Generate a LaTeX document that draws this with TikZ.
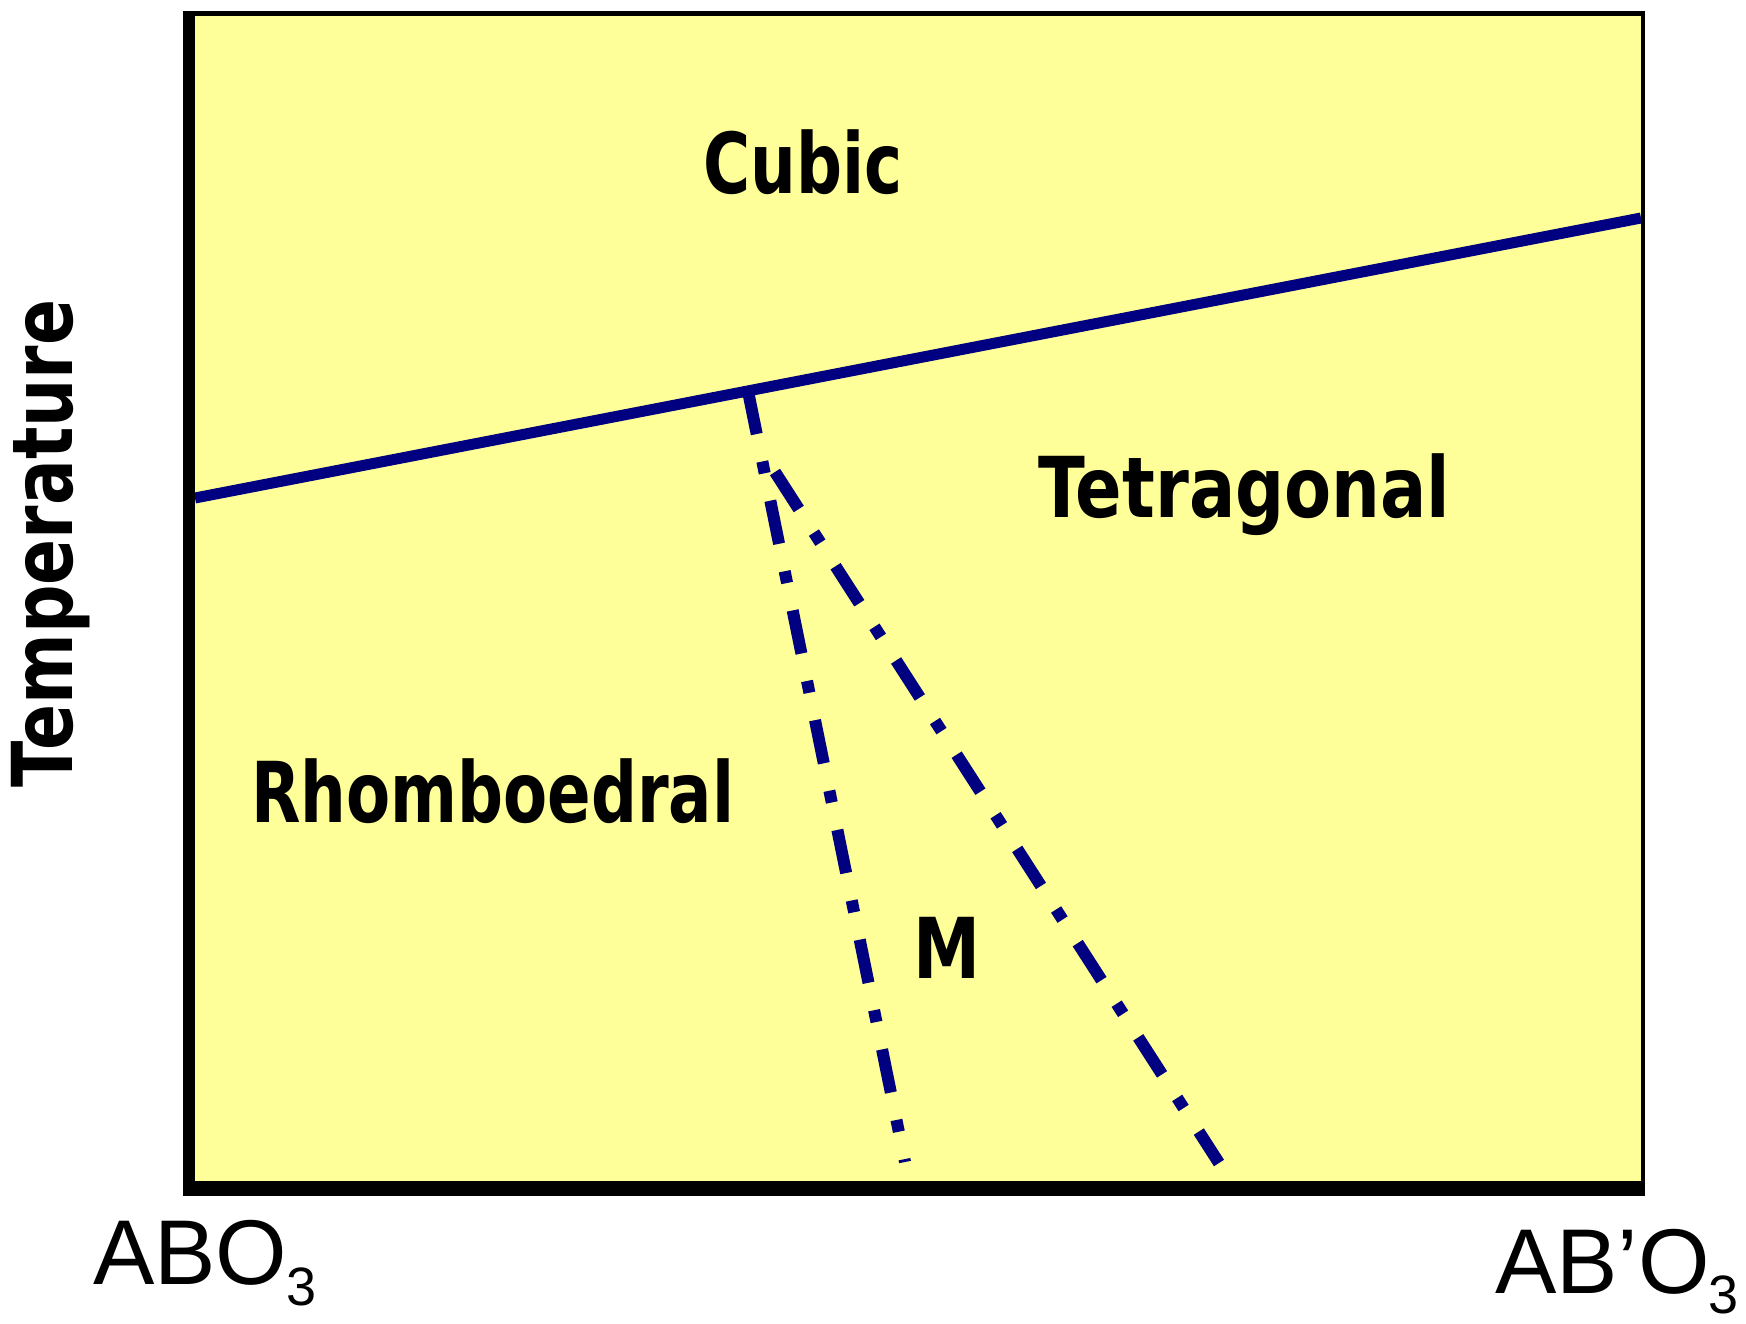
\documentclass[tikz,border=0pt]{standalone}
\usepackage{fontspec}
\usepackage{graphicx}
\usetikzlibrary{calc}
\setmainfont{Liberation Sans}
\newfontfamily\comicfont{DejaVu Sans}
\definecolor{paper}{HTML}{FFFF99}
\definecolor{navyline}{HTML}{000080}
\newcommand{\fitto}[2]{\resizebox{#1}{\height}{#2}}
\newcommand{\subthree}[1]{\kern-1pt\raisebox{-#1}{\fontsize{54}{54}\selectfont 3}}
\tikzset{
  phaseline/.style={navyline, line width=11pt},
  dashdotline/.style={navyline, line width=12pt, dash pattern=on 44pt off 28pt on 12pt off 28pt},
  region/.style={inner sep=0pt, anchor=base west, font=\comicfont\bfseries\fontsize{84}{84}\selectfont},
  axislabel/.style={inner sep=0pt, anchor=base west, font=\fontsize{92}{92}\selectfont},
  frameedge/.style={fill=black, draw=none},
}
\begin{document}
\begin{tikzpicture}[x=1pt, y=-1pt]
\useasboundingbox (0,0) rectangle (1746,1323);
% plot area
\fill[paper] (195,16) rectangle (1641,1181);
% phase boundaries
\coordinate (L) at (195,498);
\coordinate (R) at (1641,218);
\draw[phaseline] (L) -- (R);
\coordinate (J) at ($(L)!0.3824!(R)$);
\coordinate (E1) at (905,1162);
\draw[dashdotline] (J) -- (E1);
\coordinate (S2) at (775,472);
\coordinate (E2) at (1219,1163);
\draw[dashdotline] (S2) -- (E2);
% frame
\fill[frameedge] (183,11) rectangle (1645,16);
\fill[frameedge] (183,11) rectangle (195,1196);
\fill[frameedge] (183,1181) rectangle (1645,1196);
\fill[frameedge] (1641,11) rectangle (1645,1196);
% region labels
\node[region] (cubic) at (703,193) {\fitto{199pt}{Cubic}};
\node[region] (tetra) at (1038,517) {\fitto{412pt}{Tetragonal}};
\node[region] (rhombo) at (251,822) {\fitto{483pt}{Rhomboedral}};
\node[region] (mono) at (913,978) {\fitto{67pt}{M}};
\node[region, rotate=90] (temp) at (72,788) {\fitto{488pt}{Temperature}};
% axis end labels
\node[axislabel] (abo) at (93,1284) {ABO\subthree{21pt}};
\node[axislabel] (abpo) at (1495,1293) {AB’O\subthree{20pt}};
\end{tikzpicture}
\end{document}
